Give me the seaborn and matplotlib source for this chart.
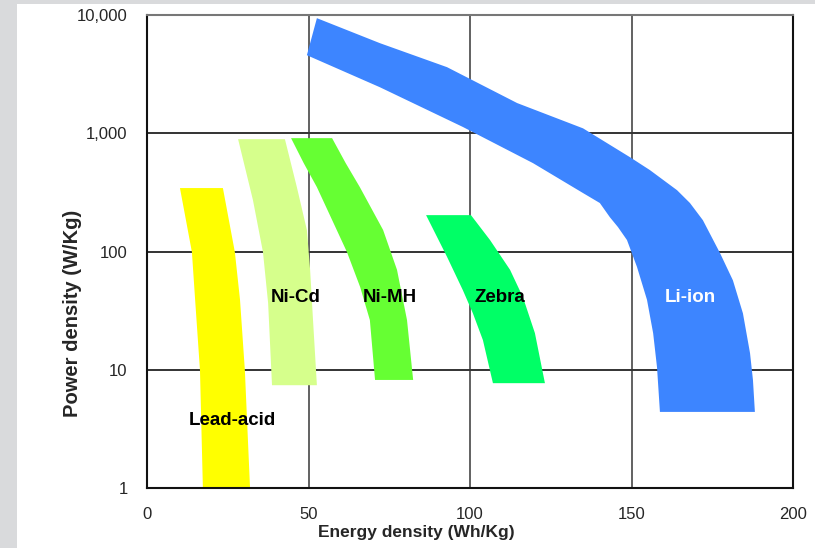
import matplotlib
matplotlib.use("Agg")
import matplotlib.pyplot as plt
import seaborn as sns
from matplotlib.patches import Rectangle

# ---- data (energy density Wh/kg, power density W/kg) ----
lead_upper_x = [10.2, 13.9, 14.9, 16.4, 17.3]
lead_upper_y = [344, 99, 39, 9.9, 1.0]
lead_lower_x = [23.5, 27.2, 28.8, 30.3, 31.9]
lead_lower_y = [344, 99, 39, 9.9, 1.0]

nicd_left_x = [28.2, 30.6, 32.8, 35.9, 37.5, 38.7]
nicd_left_y = [891, 480, 272, 99, 36.6, 7.4]
nicd_right_x = [42.7, 46.4, 49.5, 50.5, 51.4, 52.6]
nicd_right_y = [891, 350, 152, 70, 26.3, 7.4]

nimh_left_x = [44.6, 48.5, 52.6, 57.5, 61.9, 66.0, 69.0, 70.6]
nimh_left_y = [909, 560, 350, 180, 99, 50, 26.3, 8.2]
nimh_right_x = [57.3, 61.5, 65.9, 73.1, 77.4, 80.5, 82.4]
nimh_right_y = [909, 560, 350, 152, 70, 26.3, 8.2]

zebra_left_x = [86.4, 92.9, 97.8, 100.9, 104.0, 107.1]
zebra_left_y = [203, 90, 47, 30, 17.8, 7.7]
zebra_right_x = [100.3, 106.2, 112.4, 116.4, 120.1, 123.2]
zebra_right_y = [203, 125, 70, 41, 20.4, 7.7]

liion_upper_x = [52.6, 72.1, 92.9, 114.6, 135.0, 149.5, 155.7, 164.1, 168.1,
                 172.1, 177.4, 181.4, 184.5, 186.7, 187.6, 188.2]
liion_upper_y = [9400, 5780, 3620, 1800, 1100, 628, 488, 330, 257, 184, 97,
                 57, 30, 13.8, 8.2, 4.4]
liion_lower_x = [49.5, 72.1, 97.8, 119.5, 135.0, 140.2, 143.3, 145.8, 148.6,
                 151.7, 154.8, 156.7, 157.9, 158.8]
liion_lower_y = [4570, 2450, 1130, 559, 312, 257, 195, 161, 125, 74, 39, 20.4,
                 10.5, 4.4]

labels = ["Lead-acid", "Ni-Cd", "Ni-MH", "Zebra", "Li-ion"]
label_x = [26.3, 46.1, 75.2, 109.3, 168.1]
label_y = [3.7, 41, 41, 41, 41]
label_colors = ["black", "black", "black", "black", "white"]

x_ticks = [0, 50, 100, 150, 200]
y_ticks = [1, 10, 100, 1000, 10000]
y_tick_labels = ["1", "10", "100", "1,000", "10,000"]

colors = ["#FFFF00", "#D6FF8C", "#66FF33", "#00FF66", "#3D85FF"]

sns.set_style("white")
plt.rcParams["font.family"] = ["Liberation Sans", "DejaVu Sans"]

fig = plt.figure(figsize=(8.15, 5.48), dpi=100)
fig.patch.set_facecolor("white")
fig.patches.append(Rectangle((0, 0), 17 / 815, 1, transform=fig.transFigure,
                             facecolor="#D9DADC", edgecolor="none", zorder=0))
fig.patches.append(Rectangle((0, 1 - 4 / 548), 1, 4 / 548, transform=fig.transFigure,
                             facecolor="#D9DADC", edgecolor="none", zorder=0))

ax = fig.add_axes([147 / 815, 1 - 488 / 548, 646 / 815, 473 / 548])
ax.set_yscale("log")
ax.set_xlim(0, 200)
ax.set_ylim(1, 10000)

def band(xa, ya, xb, yb, color):
    xs = list(xa) + list(xb)[::-1]
    ys = list(ya) + list(yb)[::-1]
    ax.fill(xs, ys, color=color, lw=0, zorder=2)

band(lead_upper_x, lead_upper_y, lead_lower_x, lead_lower_y, colors[0])
band(nicd_left_x, nicd_left_y, nicd_right_x, nicd_right_y, colors[1])
band(nimh_left_x, nimh_left_y, nimh_right_x, nimh_right_y, colors[2])
band(zebra_left_x, zebra_left_y, zebra_right_x, zebra_right_y, colors[3])
band(liion_upper_x, liion_upper_y, liion_lower_x, liion_lower_y, colors[4])

for t, x, y, c in zip(labels, label_x, label_y, label_colors):
    ax.text(x, y, t, ha="center", va="center", fontsize=13.5,
            fontweight="bold", color=c, zorder=4)

for v in [50, 100, 150]:
    ax.axvline(v, color="#555555", lw=1.3, zorder=1)
for v in [10, 100, 1000]:
    ax.axhline(v, color="#333333", lw=1.4, zorder=1)

ax.set_xticks(x_ticks)
ax.set_xticklabels([str(v) for v in x_ticks])
ax.set_yticks(y_ticks)
ax.set_yticklabels(y_tick_labels)
ax.minorticks_off()
ax.yaxis.set_minor_locator(matplotlib.ticker.NullLocator())
ax.tick_params(axis="both", which="major", length=3, width=1.2, color="black",
               labelsize=12, direction="out")
ax.tick_params(axis="x", pad=11)
ax.tick_params(axis="y", pad=11)

for s in ["left", "bottom", "right"]:
    ax.spines[s].set_color("#111111")
    ax.spines[s].set_linewidth(1.5)
ax.spines["top"].set_color("#777777")
ax.spines["top"].set_linewidth(1.5)

ax.set_xlabel("Energy density (Wh/Kg)", fontsize=12.5, fontweight="bold")
ax.set_ylabel("Power density (W/Kg)", fontsize=14.5, fontweight="bold")
ax.xaxis.set_label_coords(0.417, -0.078)
ax.yaxis.set_label_coords(-0.1006, 0.37)

fig.savefig("out.png", dpi=100)
